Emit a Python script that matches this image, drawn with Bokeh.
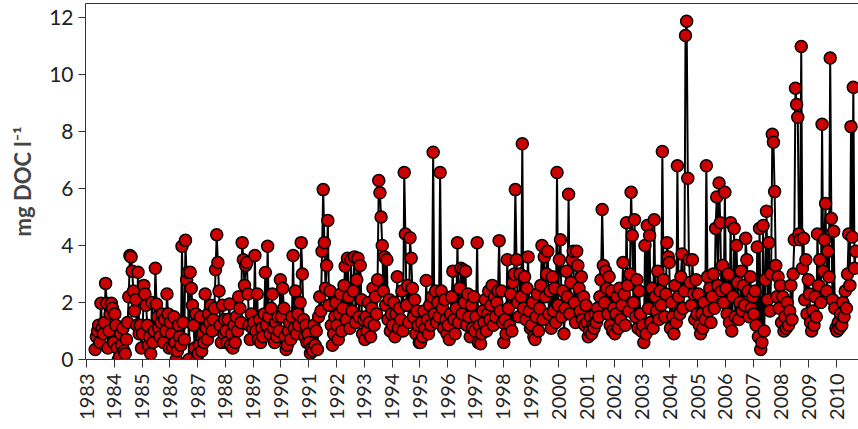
from bokeh.plotting import figure
from bokeh.models import ColumnDataSource, Range1d, FixedTicker, LinearAxis
from bokeh.embed import file_html
from bokeh.resources import INLINE
import math

# DOC concentration (mg DOC l-1), roughly semi-monthly samples per year
doc_1983 = [0.35, 0.8, 1.0, 1.2, 0.6, 1.97, 1.1, 0.9, 1.3, 2.67, 1.97, 0.4, 1.0, 1.6, 1.97, 1.8, 0.6]
doc_1984 = [1.6, 1.2, 0.4, 0.0, 0.1, 0.9, 0.5, 1.1, 0.3, 0.2, 0.7, 1.3, 2.2, 3.65, 3.6, 3.1, 2.4, 1.7, 2.1, 1.2, 3.06, 0.9, 1.2, 0.4]
doc_1985 = [0.9, 2.6, 2.3, 1.9, 1.2, 0.5, 0.8, 0.2, 2.0, 0.6, 1.0, 3.2, 1.95, 1.5, 1.1, 0.8, 1.3, 1.6, 0.6, 1.4, 1.0, 2.3, 1.6, 0.4]
doc_1986 = [1.3, 0.9, 0.4, 1.5, 0.6, 0.0, 0.3, 1.2, 0.8, 0.5, 3.97, 1.3, 0.7, 4.18, 2.8, 3.05, 0.0, 3.06, 2.5, 1.9, 1.2, 0.4, 1.6, 0.0]
doc_1987 = [0.2, 0.5, 1.5, 0.3, 0.9, 0.6, 2.3, 1.1, 0.7, 1.6, 1.3, 1.9, 1.0, 1.4, 1.8, 3.15, 4.38, 3.4, 2.4, 1.2, 0.6, 1.9, 0.9, 1.4]
doc_1988 = [1.0, 0.6, 1.4, 1.95, 0.5, 0.9, 0.4, 1.2, 0.6, 1.5, 1.0, 2.2, 1.8, 1.3, 4.1, 3.5, 2.6, 3.3, 3.4, 2.3, 1.2, 0.7, 1.6, 1.1]
doc_1989 = [1.3, 3.65, 1.0, 2.3, 0.7, 1.4, 0.6, 1.1, 0.8, 1.6, 3.05, 1.2, 3.97, 1.5, 0.9, 1.8, 2.3, 1.1, 0.6, 1.3, 0.8, 1.5, 1.0, 2.8]
doc_1990 = [1.5, 2.5, 1.8, 0.8, 0.35, 0.5, 1.0, 1.3, 0.7, 1.5, 3.65, 1.1, 2.4, 0.9, 1.6, 1.2, 2.0, 4.1, 3.0, 1.4, 0.8, 1.2, 0.6, 0.9]
doc_1991 = [0.6, 0.22, 0.4, 0.3, 1.2, 0.5, 1.0, 0.35, 1.5, 2.2, 1.7, 3.8, 5.96, 4.1, 2.5, 3.3, 4.88, 1.9, 2.4, 1.2, 0.5, 0.9, 1.5, 2.0]
doc_1992 = [1.2, 0.7, 1.6, 2.3, 1.0, 1.8, 2.6, 3.27, 1.4, 3.55, 2.2, 1.1, 3.5, 1.7, 2.4, 3.6, 1.3, 2.8, 3.55, 1.5, 3.3, 2.1, 0.9, 1.4]
doc_1993 = [0.7, 1.5, 1.0, 2.0, 1.3, 0.8, 1.8, 2.5, 1.2, 2.2, 1.6, 2.8, 6.28, 5.85, 5.0, 4.0, 2.4, 3.6, 1.9, 3.5, 1.4, 2.1, 1.0, 1.6]
doc_1994 = [1.2, 2.0, 0.8, 1.6, 2.9, 1.1, 1.8, 1.4, 2.4, 1.0, 6.56, 4.4, 1.9, 2.6, 1.3, 4.27, 3.55, 2.5, 1.5, 2.1, 0.9, 1.7, 1.2, 0.6]
doc_1995 = [0.6, 1.3, 0.8, 1.7, 1.1, 2.77, 1.4, 0.9, 1.9, 1.2, 2.2, 7.27, 1.6, 2.4, 1.3, 2.0, 1.5, 6.56, 2.4, 1.8, 1.1, 2.1, 1.4, 0.9]
doc_1996 = [1.2, 0.7, 1.6, 2.2, 3.1, 1.4, 0.9, 1.8, 4.1, 1.3, 2.5, 3.2, 1.6, 3.15, 2.0, 3.1, 1.2, 2.3, 1.5, 0.8, 1.9, 1.1, 2.2, 1.0]
doc_1997 = [1.5, 4.1, 0.6, 1.2, 0.55, 0.9, 1.7, 1.3, 2.1, 1.0, 1.6, 2.4, 1.4, 1.9, 2.6, 1.2, 2.2, 1.5, 2.0, 2.4, 4.17, 1.7, 2.4, 1.3]
doc_1998 = [0.6, 1.4, 0.9, 3.5, 1.8, 1.2, 2.3, 1.0, 2.7, 3.0, 5.96, 3.5, 2.0, 1.5, 3.0, 2.2, 7.57, 1.8, 2.9, 1.4, 2.5, 3.6, 1.7, 1.1]
doc_1999 = [1.2, 2.0, 0.8, 0.7, 1.5, 2.3, 1.0, 1.8, 2.6, 4.0, 1.4, 3.6, 2.2, 3.0, 3.8, 1.6, 2.4, 1.1, 2.9, 1.7, 2.5, 1.3, 6.56, 1.9]
doc_2000 = [3.5, 4.2, 1.5, 2.4, 0.9, 1.8, 3.1, 2.2, 5.8, 1.6, 2.7, 3.5, 3.8, 2.0, 1.3, 3.8, 3.3, 2.5, 1.7, 2.9, 1.4, 2.2, 1.2, 1.9]
doc_2001 = [1.3, 0.8, 1.0, 1.5, 0.9, 1.2, 1.1, 1.6, 1.3, 1.8, 1.5, 2.2, 2.8, 5.26, 3.3, 2.0, 3.1, 2.5, 1.6, 2.9, 1.2, 2.4, 1.0, 1.8]
doc_2002 = [0.9, 1.6, 2.2, 1.1, 2.5, 1.4, 1.9, 3.4, 2.3, 1.2, 4.8, 2.6, 1.7, 3.0, 5.87, 4.35, 2.0, 4.9, 1.5, 2.8, 1.1, 2.4, 1.6, 1.0]
doc_2003 = [1.2, 0.6, 4.0, 0.9, 4.7, 1.8, 4.35, 1.3, 2.5, 1.1, 4.9, 2.2, 1.7, 3.1, 1.4, 2.4, 1.9, 7.3, 2.8, 1.5, 2.3, 4.1, 3.6, 3.4]
doc_2004 = [1.1, 2.0, 1.5, 0.9, 2.6, 1.3, 6.8, 2.2, 1.6, 2.9, 3.7, 1.8, 2.4, 11.37, 11.87, 6.36, 3.5, 2.7, 1.9, 3.5, 2.3, 1.4, 2.8, 1.6]
doc_2005 = [2.3, 1.2, 0.9, 1.6, 1.1, 2.0, 1.4, 6.8, 2.9, 1.7, 2.5, 1.3, 2.2, 3.0, 1.8, 4.6, 5.7, 2.6, 6.19, 4.8, 2.4, 3.3, 2.0, 5.87]
doc_2006 = [2.5, 1.6, 3.0, 1.3, 4.8, 1.0, 2.2, 4.6, 1.5, 4.0, 2.7, 1.4, 2.0, 3.1, 1.7, 2.6, 1.9, 4.25, 3.5, 2.4, 1.5, 2.9, 1.8, 2.2]
doc_2007 = [1.6, 2.4, 1.2, 3.95, 0.8, 4.6, 0.35, 0.6, 4.7, 1.0, 2.8, 5.2, 2.1, 4.1, 1.7, 3.0, 7.9, 7.62, 5.89, 3.3, 2.2, 2.9, 1.8, 2.6]
doc_2008 = [1.3, 2.2, 1.0, 1.5, 1.1, 2.0, 1.2, 1.7, 2.6, 1.4, 3.0, 4.2, 9.52, 8.95, 8.5, 4.4, 4.2, 10.98, 3.2, 4.25, 2.1, 3.5, 1.6, 2.8]
doc_2009 = [2.3, 1.3, 1.0, 1.7, 1.2, 2.2, 1.5, 4.4, 2.6, 3.5, 2.0, 8.25, 3.1, 4.2, 5.47, 2.4, 3.8, 2.9, 10.58, 4.95, 2.1, 4.5, 1.8, 1.1]
doc_2010 = [1.0, 1.3, 1.1, 1.6, 1.2, 2.0, 1.5, 2.4, 1.8, 3.0, 4.4, 2.6, 8.17, 4.3, 9.55, 3.2, 3.8]

doc_by_year = {
    1983: doc_1983, 1984: doc_1984, 1985: doc_1985, 1986: doc_1986, 1987: doc_1987,
    1988: doc_1988, 1989: doc_1989, 1990: doc_1990, 1991: doc_1991, 1992: doc_1992,
    1993: doc_1993, 1994: doc_1994, 1995: doc_1995, 1996: doc_1996, 1997: doc_1997,
    1998: doc_1998, 1999: doc_1999, 2000: doc_2000, 2001: doc_2001, 2002: doc_2002,
    2003: doc_2003, 2004: doc_2004, 2005: doc_2005, 2006: doc_2006, 2007: doc_2007,
    2008: doc_2008, 2009: doc_2009, 2010: doc_2010,
}
first_slot = {1983: 7}          # sampling began in April 1983
slots_per_year = 24

year_ticks = list(range(1983, 2011))
y_ticks = [0, 2, 4, 6, 8, 10, 12]

dates, values = [], []
for yr, vals in doc_by_year.items():
    start = first_slot.get(yr, 0)
    for i, v in enumerate(vals):
        dates.append(yr + (start + i + 0.5) / slots_per_year)
        values.append(v)

src = ColumnDataSource(dict(date=dates, doc=values))

p = figure(width=858, height=429, output_backend="svg", toolbar_location=None,
           x_range=Range1d(1982.964, 2010.79), y_range=Range1d(0, 12.49),
           min_border_left=85, min_border_right=0, min_border_top=3, min_border_bottom=70)
p.outline_line_color = None
p.grid.grid_line_color = None
p.background_fill_color = "white"
p.border_fill_color = "white"

p.line("date", "doc", source=src, line_color="black", line_width=2)
p.scatter("date", "doc", source=src, size=12, fill_color="#cc0000",
          line_color="black", line_width=1.5)

font = "Lato"
xa = p.xaxis[0]
xa.ticker = FixedTicker(ticks=year_ticks)
xa.major_label_orientation = math.pi / 2
xa.major_label_text_font = font
xa.major_label_text_font_size = "20px"
xa.major_label_text_color = "#222222"
xa.major_tick_in = 0
xa.major_tick_out = 8
xa.minor_tick_line_color = None
xa.axis_line_color = "#333333"
xa.major_tick_line_color = "#333333"
xa.major_label_standoff = 6

ya = p.yaxis[0]
ya.ticker = FixedTicker(ticks=y_ticks)
ya.major_label_text_font = font
ya.major_label_text_font_size = "21px"
ya.major_label_text_color = "#222222"
ya.major_tick_in = 0
ya.major_tick_out = 7
ya.minor_tick_line_color = None
ya.axis_line_color = "#333333"
ya.major_tick_line_color = "#333333"
ya.axis_label = "mg DOC l⁻¹"
ya.axis_label_text_font = font
ya.axis_label_text_font_style = "bold"
ya.axis_label_text_font_size = "22px"
ya.axis_label_standoff = 10

top = LinearAxis(ticker=FixedTicker(ticks=[]), major_tick_line_color=None,
                 minor_tick_line_color=None, axis_line_color="#333333")
p.add_layout(top, "above")

open("out.html", "w").write(file_html(p, INLINE))
